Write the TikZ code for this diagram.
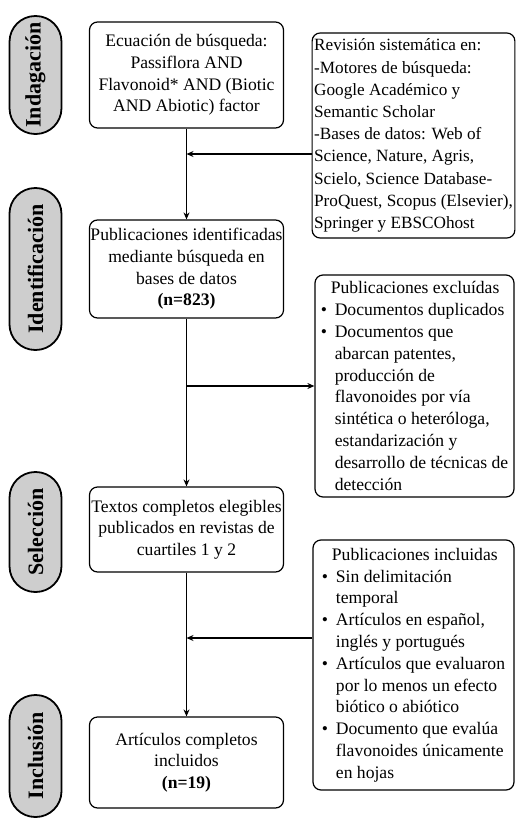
\documentclass[tikz,border=0pt]{standalone}
\usepackage{fontspec}
\setmainfont{Liberation Serif}
\usetikzlibrary{arrows.meta, positioning}
\definecolor{pillgray}{RGB}{206,206,206}
\def\bul{\makebox[7pt][l]{\textbullet}}
\def\sang{\hspace*{7pt}}

\begin{document}
\begin{tikzpicture}[x=0.5pt, y=-0.5pt, font=\fontsize{8.8}{10.8}\selectfont,
	mainbox/.style={draw, line width=0.6pt, rounded corners=4pt, align=center, minimum width=97pt, inner xsep=0.5pt, inner ysep=2pt},
	sidebox/.style={draw, line width=0.6pt, rounded corners=4pt, align=left, inner xsep=1pt, inner ysep=2pt, font=\fontsize{8.8}{10.9}\selectfont},
	stage/.style={draw, line width=0.9pt, fill=pillgray, rounded corners=12.9pt, minimum width=26pt, inner sep=0pt, font=\fontsize{11}{11}\selectfont\bfseries},
	flow/.style={-{Stealth[length=3.5pt, width=3pt]}, line width=0.6pt}]
	
	\useasboundingbox (0,0) rectangle (515,819);
	
	% Nodes
	\node[mainbox, minimum height=53pt] (ecuacion) at (186.5,75) {
		Ecuación de búsqueda:\\ Passiflora AND\\ Flavonoid* AND (Biotic\\ AND Abiotic) factor};
	
	\node[mainbox, minimum height=49pt] (identif) at (186.5,269) {
		Publicaciones identificadas\\ mediante búsqueda en\\ bases de datos\\ \textbf{(n=823)}};
	
	\node[mainbox, minimum height=42.5pt] (textos) at (186.5,529.5) {
		Textos completos elegibles\\ publicados en revistas de\\ cuartiles 1 y 2};
	
	\node[mainbox, minimum height=45.5pt] (articulos) at (186.5,762.5) {
		Artículos completos\\ incluidos\\ \textbf{(n=19)}};
	
	% Stages
	\node[stage, minimum height=59pt, left=13.25pt of ecuacion] (indag) {\rotatebox{90}{Indagación}};
	\node[stage, minimum height=81pt, left=13.25pt of identif] (ident) {\rotatebox{90}{Identificación}};
	\node[stage, minimum height=60pt, left=13.25pt of textos, yshift=-1.25pt] (selec) {\rotatebox{90}{Selección}};
	\node[stage, minimum height=61pt, left=13.25pt of articulos, yshift=3.25pt] (inclu) {\rotatebox{90}{Inclusión}};
	
	% Side boxes
	\node[sidebox, minimum width=100.5pt, minimum height=102.5pt, font=\fontsize{8.6}{11.1}\selectfont] (revision) at (413.5,135.5) {
		Revisión sistemática en:\\
		-Motores de búsqueda:\\
		Google Académico y\\
		Semantic Scholar\\
		-Bases de datos: Web of\\
		Science, Nature, Agris,\\
		Scielo, Science Database-\\
		ProQuest, Scopus (Elsevier),\\
		Springer y EBSCOhost};
	
	\node[sidebox, minimum width=99.5pt, minimum height=111pt] (excluidas) at (414.5,386) {
		\hspace*{5pt}Publicaciones excluídas\\
		\bul Documentos duplicados\\
		\bul Documentos que\\
		\sang abarcan patentes,\\
		\sang producción de\\
		\sang flavonoides por vía\\
		\sang sintética o heteróloga,\\
		\sang estandarización y\\
		\sang desarrollo de técnicas de\\
		\sang detección};
	
	\node[sidebox, minimum width=100.5pt, minimum height=125pt] (incluidas) at (413.5,665) {
		\hspace*{5pt}Publicaciones incluidas\\
		\bul Sin delimitación\\
		\sang temporal\\
		\bul Artículos en español,\\
		\sang inglés y portugués\\
		\bul Artículos que evaluaron\\
		\sang por lo menos un efecto\\
		\sang biótico o abiótico\\
		\bul Documento que evalúa\\
		\sang flavonoides únicamente\\
		\sang en hojas};
	
	\coordinate (j1) at (186.5,154);
	\coordinate (j3) at (186.5,638);
	
	% Arrows
	\draw[flow] (ecuacion) -- (identif);
	\draw[flow] (identif) -- (textos);
	\draw[flow] (textos) -- (articulos);
	\draw[flow] (revision.west |- j1) -- (j1);
	\draw[flow] (identif.south |- excluidas.west) -- (excluidas.west);
	\draw[flow] (incluidas.west |- j3) -- (j3);
	
\end{tikzpicture}
\end{document}
